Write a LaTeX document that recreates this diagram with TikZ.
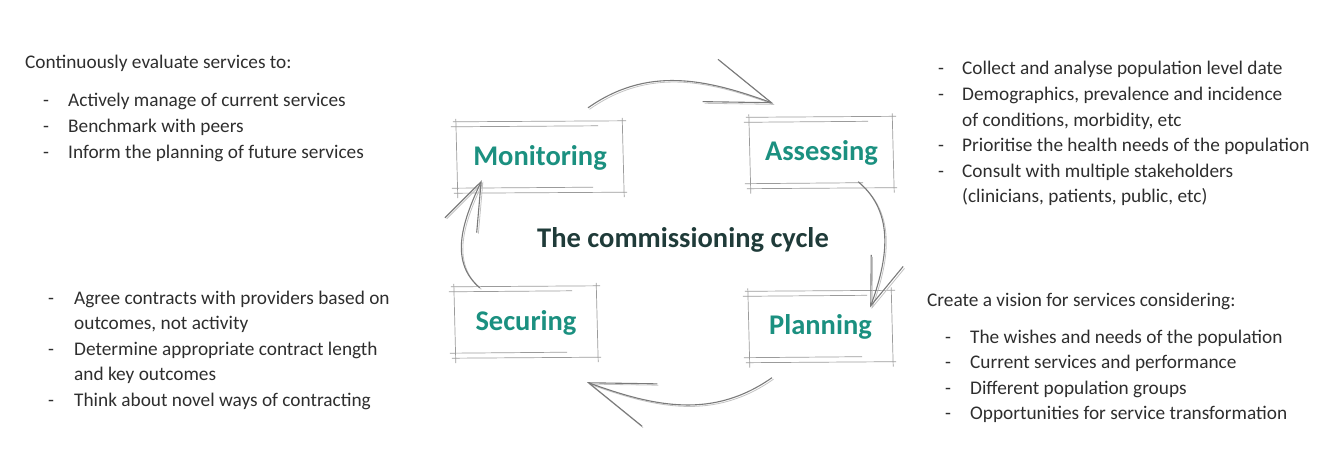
\documentclass[tikz,border=0pt]{standalone}
\usepackage{fontspec}
\setmainfont{Carlito}
\usetikzlibrary{arrows.meta}
\definecolor{stagegreen}{HTML}{1B9080}
\definecolor{cycledark}{HTML}{1F3B39}
\definecolor{bodygrey}{HTML}{2E2E2E}
\definecolor{pencil}{HTML}{7A7A7A}

\begin{document}
\begin{tikzpicture}[
			x=1pt, y=1pt,
			every node/.style={inner sep=0pt, text=bodygrey, font=\fontsize{19.3}{25.6}\selectfont},
			stage/.style={minimum width=#1, minimum height=69pt, text=stagegreen, font=\fontsize{28.5}{32}\selectfont\bfseries},
			notes/.style={anchor=base west},
			sketch/.style={pencil!75, line width=0.7pt},
			cycle/.style={pencil, line width=1.1pt,
				preaction={draw, pencil!45, line width=0.8pt, transform canvas={shift={(1.5pt,-1.5pt)}}}},
			]
			\useasboundingbox (0,0) rectangle (1334,475);
			
			\node[stage=166pt] (mon) at (540,317.5) {Monitoring};
			\node[stage=143pt] (ass) at (821.5,322) {Assessing};
			\node[stage=143pt] (pla) at (820.5,148) {Planning};
			\node[stage=142pt] (sec) at (526,152.5) {Securing};
			
			\node[font=\fontsize{28.5}{32}\selectfont\bfseries, text=cycledark] (title) at (683,235) {The commissioning cycle};
			
			\foreach \n in {mon,ass,pla,sec} {
				\draw[sketch] ([xshift=-4pt,yshift=1pt]\n.north west) -- ([xshift=3pt,yshift=2pt]\n.north east);
				\draw[sketch] ([xshift=-6pt,yshift=-4pt]\n.north west) -- ([xshift=-25pt,yshift=-3pt]\n.north east);
				\draw[sketch] ([xshift=-1pt,yshift=4pt]\n.north west) -- ([xshift=1pt,yshift=-6pt]\n.south west);
				\draw[sketch] ([xshift=-1pt,yshift=5pt]\n.north east) -- ([xshift=1pt,yshift=-5pt]\n.south east);
				\draw[sketch] ([xshift=-3pt,yshift=-1pt]\n.south west) -- ([xshift=4pt]\n.south east);
				\draw[sketch] ([xshift=-5pt,yshift=4pt]\n.south west) -- ([xshift=-30pt,yshift=5pt]\n.south east);
			}
			
			\draw[cycle, -{Straight Barb[length=65pt,width=45pt]}] ([xshift=48pt,yshift=15pt]mon.north) to[out=35,in=160] ([xshift=-48.5pt,yshift=15pt]ass.north);
			\draw[cycle, -{Straight Barb[length=48pt,width=34pt]}] ([xshift=-35pt,yshift=6pt]ass.south east) to[out=-40,in=70] ([xshift=-22pt,yshift=-15pt]pla.north east);
			\draw[cycle, -{Straight Barb[length=65pt,width=45pt]}] ([xshift=-48.5pt,yshift=-16pt]pla.south) to[out=-145,in=-20] ([xshift=61pt,yshift=-25pt]sec.south);
			\draw[cycle, -{Straight Barb[length=48pt,width=35pt]}] ([xshift=25pt]sec.north west) to[out=140,in=-115] ([xshift=25pt,yshift=12pt]mon.south west);
			
			\node[notes] (monhead) at (25,406) {Continuously evaluate services to:};
			\node[notes] (monlist) at (43,368) {\begin{tabular}[t]{@{}p{25pt}@{}l@{}}
					- & Actively manage of current services\\
					- & Benchmark with peers\\
					- & Inform the planning of future services
			\end{tabular}};
			
			\node[notes] (asslist) at (938,400) {\begin{tabular}[t]{@{}p{24pt}@{}l@{}}
					- & Collect and analyse population level date\\
					- & Demographics, prevalence and incidence\\
					& of conditions, morbidity, etc\\
					- & Prioritise the health needs of the population\\
					- & Consult with multiple stakeholders\\
					& (clinicians, patients, public, etc)
			\end{tabular}};
			
			\node[notes] (plahead) at (927,169) {Create a vision for services considering:};
			\node[notes] (plalist) at (945,132) {\begin{tabular}[t]{@{}p{25pt}@{}l@{}}
					- & The wishes and needs of the population\\
					- & Current services and performance\\
					- & Different population groups\\
					- & Opportunities for service transformation
			\end{tabular}};
			
			\node[notes] (seclist) at (48,171) {\begin{tabular}[t]{@{}p{26pt}@{}l@{}}
					- & Agree contracts with providers based on\\
					& outcomes, not activity\\
					- & Determine appropriate contract length\\
					& and key outcomes\\
					- & Think about novel ways of contracting
			\end{tabular}};
		\end{tikzpicture}
\end{document}
